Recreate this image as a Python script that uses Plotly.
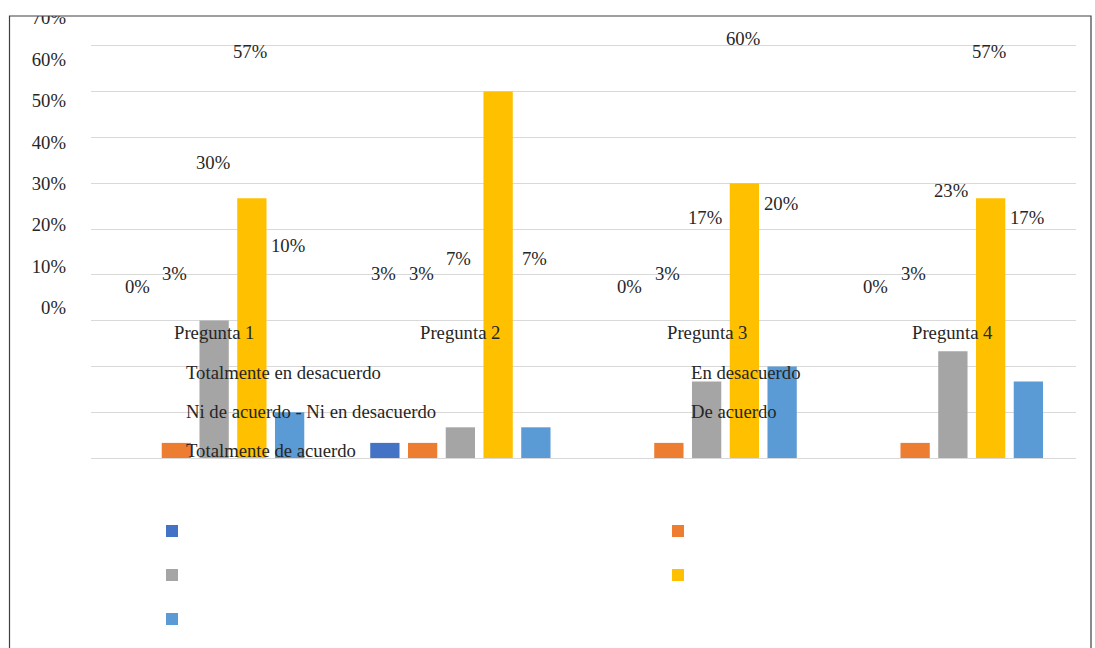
import plotly.graph_objects as go

# ---- data -------------------------------------------------------------
categories = ["Pregunta 1", "Pregunta 2", "Pregunta 3", "Pregunta 4"]

series_names = [
    "Totalmente en desacuerdo",
    "En desacuerdo",
    "Ni de acuerdo - Ni en desacuerdo",
    "De acuerdo",
    "Totalmente de acuerdo",
]
totalmente_desacuerdo = [0.0, 0.033, 0.0, 0.0]
en_desacuerdo = [0.033, 0.033, 0.033, 0.033]
ni_ni = [0.30, 0.067, 0.167, 0.233]
de_acuerdo = [0.567, 0.80, 0.60, 0.567]
totalmente_acuerdo = [0.10, 0.067, 0.20, 0.167]

tick_values = [0, 0.1, 0.2, 0.3, 0.4, 0.5, 0.6, 0.7]

series_values = [totalmente_desacuerdo, en_desacuerdo, ni_ni, de_acuerdo, totalmente_acuerdo]
colors = ["#4472C4", "#ED7D31", "#A5A5A5", "#FFC000", "#5B9BD5"]

# ---- layout geometry (pixels) ----------------------------------------
W, H = 1095, 648
ML, MR, MT, MB = 91, 19, 16, 190
PW, PH = W - ML - MR, H - MT - MB

BARGAP = 0.2335
GROUPGAP = 0.224
FONT = "Liberation Serif"
FSIZE = 18.7
TXT = "#262626"


def px_x(p):
    return (p - ML) / PW


def px_y(p):
    return (H - MB - p) / PH


fig = go.Figure()
for name, vals, col in zip(series_names, series_values, colors):
    fig.add_trace(go.Bar(
        x=categories, y=vals, name=name, marker=dict(color=col, line=dict(width=0)),
        showlegend=False, hoverinfo="skip",
    ))

annotations = []

# value labels, placed on the secondary text axis
slot_px = PW / len(categories) * (1 - BARGAP) / len(series_names)
mid = (len(series_names) - 1) / 2
for k, vals in enumerate(series_values):
    for cat, v in zip(categories, vals):
        annotations.append(dict(
            x=cat, xref="x", y=v, yref="y2", yshift=21, xshift=(k - mid) * slot_px - 1.5,
            text=f"{v:.0%}", showarrow=False, xanchor="center", yanchor="middle",
            font=dict(family=FONT, size=FSIZE, color=TXT),
        ))

# category names
for cat in categories:
    annotations.append(dict(
        x=cat, xref="x", y=-0.0594, yref="y2", text=cat, showarrow=False,
        xanchor="center", yanchor="middle",
        font=dict(family=FONT, size=FSIZE, color=TXT),
    ))

# legend texts
text_cols = [184, 689]
text_rows = [372, 411.7, 450.7]
for i, name in enumerate(series_names):
    r, c = divmod(i, 2)
    annotations.append(dict(
        x=px_x(text_cols[c]), xref="paper", y=px_y(text_rows[r]), yref="paper",
        text=name, showarrow=False, xanchor="left", yanchor="middle",
        font=dict(family=FONT, size=FSIZE, color=TXT),
    ))

shapes = []
# legend swatches
sw_cols = [166, 672]
sw_rows = [525, 569, 613]
SW = 12
for i, col in enumerate(colors):
    r, c = divmod(i, 2)
    shapes.append(dict(
        type="rect", xref="paper", yref="paper",
        x0=px_x(sw_cols[c]), x1=px_x(sw_cols[c] + SW),
        y0=px_y(sw_rows[r] + SW), y1=px_y(sw_rows[r]),
        fillcolor=col, line=dict(width=0), layer="above",
    ))

# white band above the chart frame, then the frame itself
shapes.append(dict(
    type="rect", xref="paper", yref="paper",
    x0=px_x(-5), x1=px_x(W + 5), y0=px_y(MT), y1=px_y(-5),
    fillcolor="white", line=dict(width=0), layer="above",
))
shapes.append(dict(
    type="rect", xref="paper", yref="paper",
    x0=px_x(9.5), x1=px_x(1091), y0=px_y(H + 20), y1=px_y(16),
    fillcolor="rgba(0,0,0,0)", line=dict(color="#404040", width=1.2), layer="above",
))

# text axis: 0 at pixel 307.7, 414 px per unit
T0, TS = 307.7, 414.0
y2_range = [-(H - MB - T0) / TS, (T0 - MT) / TS]

fig.update_layout(
    template="none",
    width=W, height=H, autosize=False,
    margin=dict(l=ML, r=MR, t=MT, b=MB, pad=0, autoexpand=False),
    paper_bgcolor="white", plot_bgcolor="white",
    barmode="group", bargap=BARGAP, bargroupgap=GROUPGAP,
    font=dict(family=FONT, size=FSIZE, color=TXT),
    showlegend=False,
    xaxis=dict(
        type="category", showticklabels=False, showgrid=False, ticks="",
        showline=True, linecolor="#D9D9D9", linewidth=1.3, zeroline=False,
        automargin=False,
    ),
    yaxis=dict(
        range=[0, PH / 458.0], dtick=0.1, showticklabels=False, ticks="",
        showgrid=True, gridcolor="#D9D9D9", gridwidth=1.3, zeroline=False,
        showline=False, automargin=False,
    ),
    yaxis2=dict(
        overlaying="y", side="left", anchor="x", range=y2_range,
        tickmode="array", tickvals=tick_values, tickformat=".0%",
        showgrid=False, zeroline=False, showline=False, ticks="",
        ticklabelstandoff=24, automargin=False,
        tickfont=dict(family=FONT, size=FSIZE, color=TXT),
    ),
    annotations=annotations,
    shapes=shapes,
)

fig.write_html("out.html")
